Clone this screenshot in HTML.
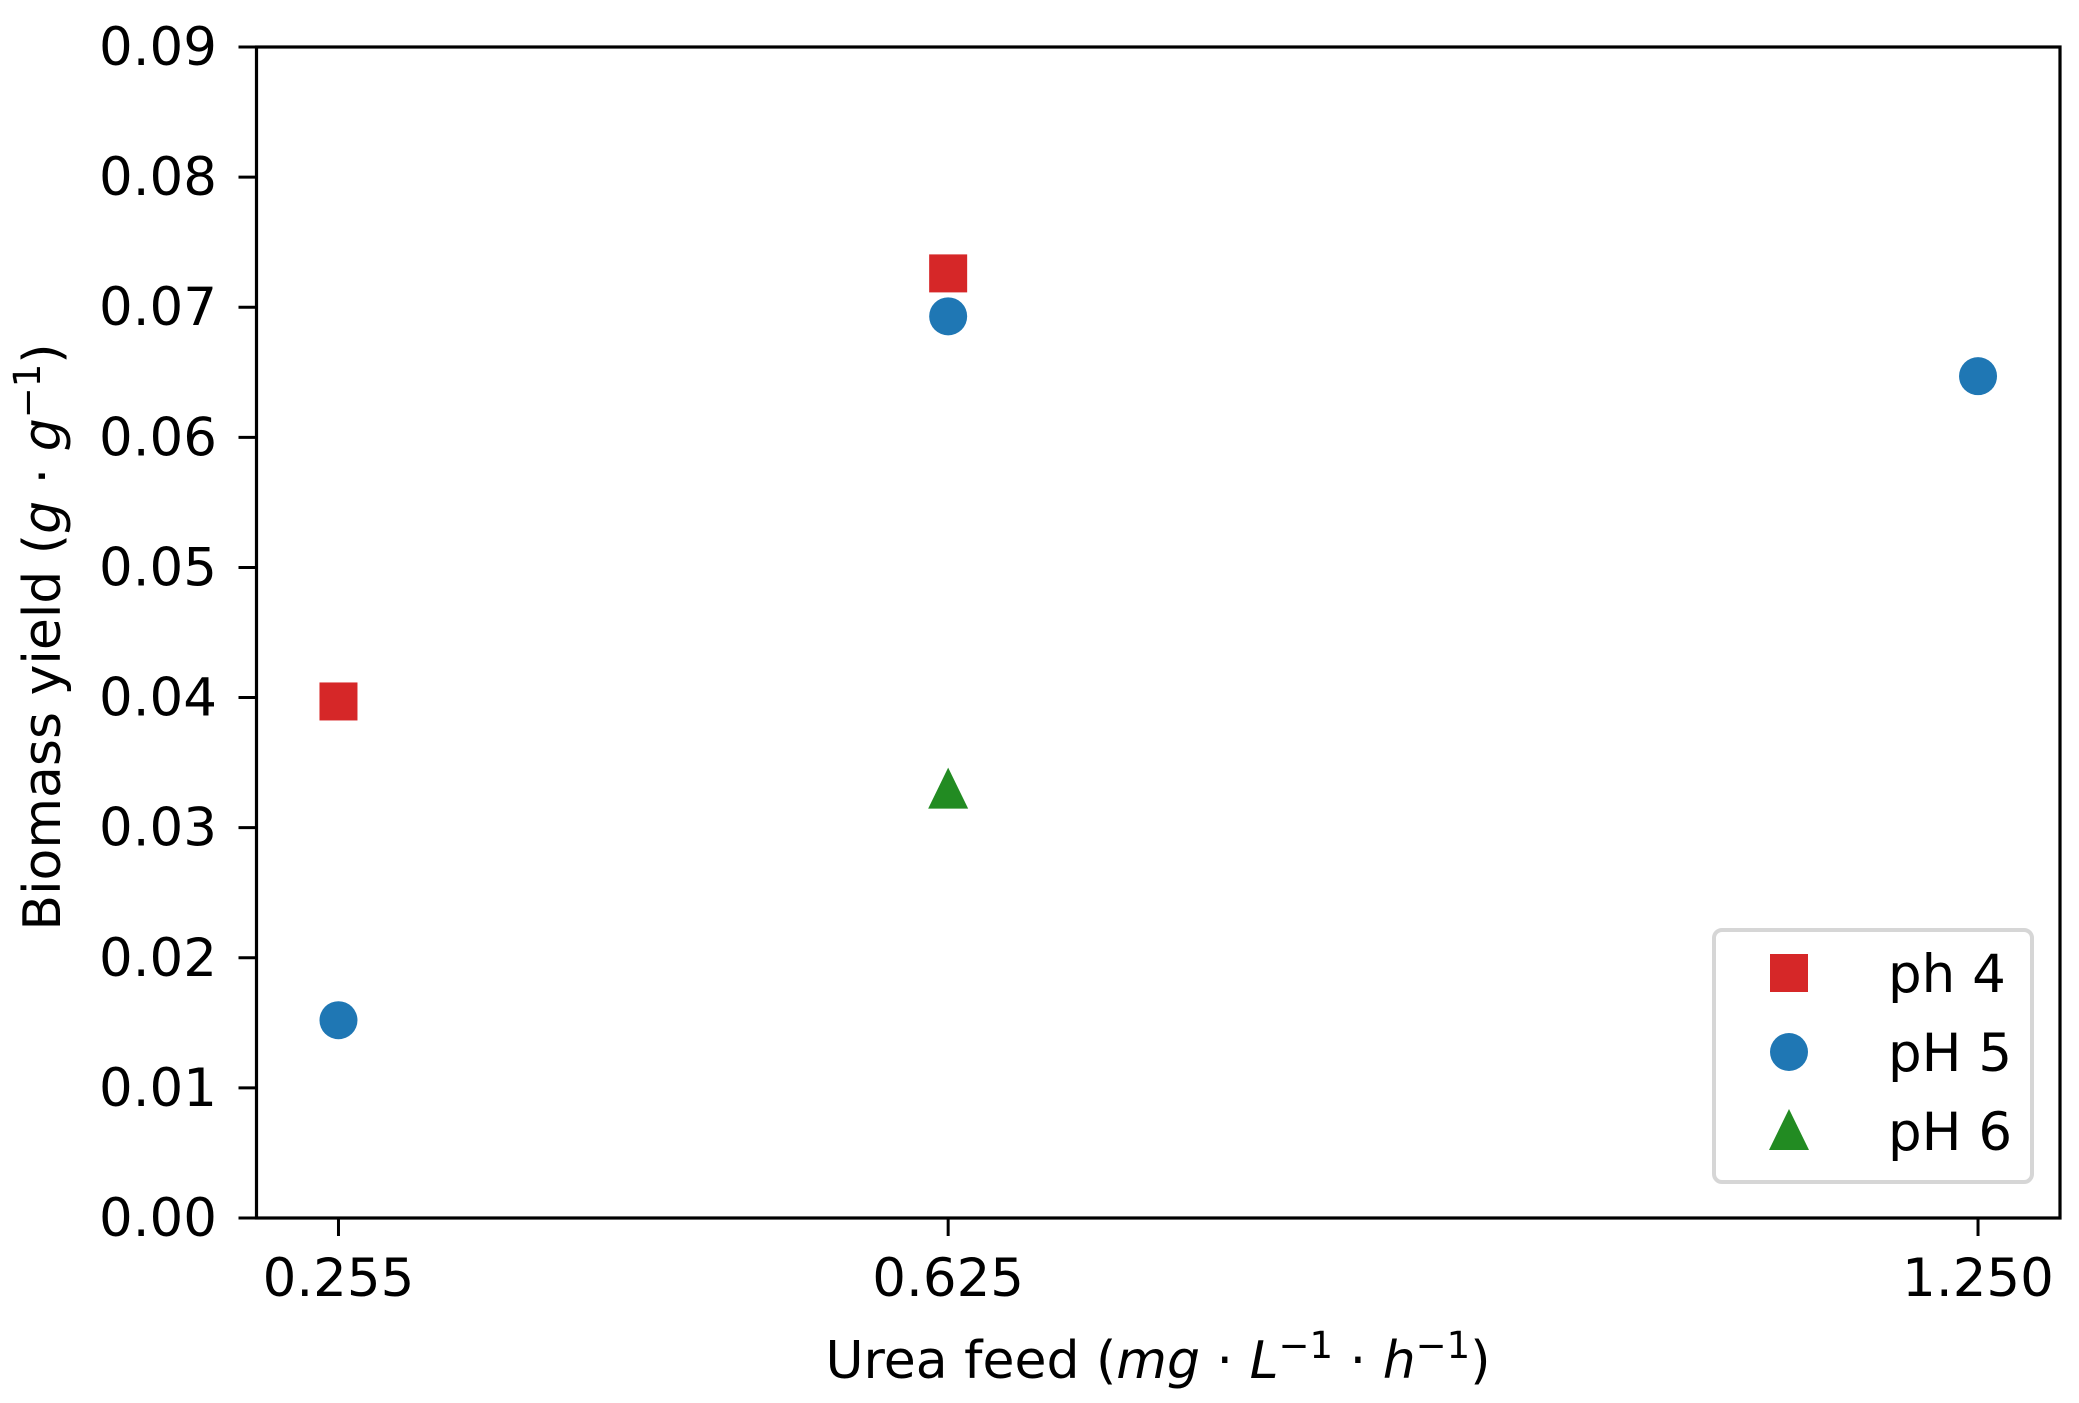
<!DOCTYPE html>
<html><head><meta charset="utf-8"><style>
body{margin:0;background:#fff}
text{font-family:"DejaVu Sans","Liberation Sans",sans-serif;fill:#000}
</style></head><body>
<svg id="chart" width="2079" height="1398" viewBox="0 0 2079 1398" xmlns="http://www.w3.org/2000/svg">
<g id="marks"></g>
<g id="axes"></g>
</svg>
<script>
const xCats = [0.255, 0.625, 1.250];
const xTickLabels = ["0.255", "0.625", "1.250"];
const yTicks = [0, 0.01, 0.02, 0.03, 0.04, 0.05, 0.06, 0.07, 0.08, 0.09];
const yTickLabels = ["0.00","0.01","0.02","0.03","0.04","0.05","0.06","0.07","0.08","0.09"];
const ph4X = [0.255, 0.625];
const ph4Y = [0.0397, 0.0726];
const ph5X = [0.255, 0.625, 1.250];
const ph5Y = [0.0152, 0.0693, 0.0647];
const ph6X = [0.625];
const ph6Y = [0.0330];

const L=256.5, R=2060, T=47, B=1218;
const xMin=0.20525, xMax=1.29975, yMin=0, yMax=0.09;
const sx = v => L + (v-xMin)/(xMax-xMin)*(R-L);
const sy = v => B - (v-yMin)/(yMax-yMin)*(B-T);
const NS="http://www.w3.org/2000/svg";
function mk(tag, attrs, parent){const e=document.createElementNS(NS,tag);for(const k in attrs)e.setAttribute(k,attrs[k]);parent.appendChild(e);return e;}
const marks=document.getElementById('marks'), axes=document.getElementById('axes');

function square(x,y,parent){return mk('rect',{x:x-19,y:y-19,width:38,height:38,fill:'#d62728'},parent);}
function circle(x,y,parent){return mk('circle',{cx:x,cy:y,r:19,fill:'#1f77b4'},parent);}
function tri(x,y,parent){return mk('polygon',{points:`${x},${y-21} ${x+20},${y+20} ${x-20},${y+20}`,fill:'#228b22'},parent);}

ph4X.forEach((v,i)=>{const e=square(sx(v),sy(ph4Y[i]),marks);

});
ph5X.forEach((v,i)=>{const e=circle(sx(v),sy(ph5Y[i]),marks);

});
ph6X.forEach((v,i)=>{const e=tri(sx(v),sy(ph6Y[i]),marks);

});

const fr=mk('rect',{x:L,y:T,width:R-L,height:B-T,fill:'none',stroke:'#000','stroke-width':3.2},axes);



yTicks.forEach((v,i)=>{const y=sy(v);
const t=mk('line',{x1:L-18,x2:L,y1:y,y2:y,stroke:'#000','stroke-width':3},axes);


const tx=mk('text',{x:217,y:y+18,'text-anchor':'end','font-size':53},axes);tx.textContent=yTickLabels[i];

});
xCats.forEach((v,i)=>{const x=sx(v);
const t=mk('line',{x1:x,x2:x,y1:B,y2:B+18,stroke:'#000','stroke-width':3},axes);


const tx=mk('text',{x:x,y:1296,'text-anchor':'middle','font-size':53},axes);tx.textContent=xTickLabels[i];

});
</script>
<svg style="position:absolute;left:0;top:0" width="2079" height="1398">
<text x="1158" y="1378" text-anchor="middle" font-size="52" xml:space="preserve">Urea feed (<tspan font-style="italic">mg</tspan> · <tspan font-style="italic">L</tspan><tspan font-size="37" dy="-20">−1</tspan><tspan dy="20"> · </tspan><tspan font-style="italic">h</tspan><tspan font-size="37" dy="-20">−1</tspan><tspan dy="20">)</tspan></text>
<text transform="translate(60,637) rotate(-90)" text-anchor="middle" font-size="52" xml:space="preserve">Biomass yield (<tspan font-style="italic">g</tspan> · <tspan font-style="italic">g</tspan><tspan font-size="37" dy="-20">−1</tspan><tspan dy="20">)</tspan></text>
<g>
<rect x="1714" y="930" width="318" height="252" rx="8" fill="#fff" fill-opacity="0.8" stroke="#d6d6d6" stroke-width="4"/>
<rect x="1770" y="954" width="38" height="38" fill="#d62728"/>
<text x="1888" y="992" font-size="53">ph 4</text>
<circle cx="1789" cy="1052" r="19" fill="#1f77b4"/>
<text x="1888" y="1071" font-size="53">pH 5</text>
<polygon points="1789,1109 1809,1150 1769,1150" fill="#228b22"/>
<text x="1888" y="1150" font-size="53">pH 6</text>
</g>
</svg>
</body></html>
